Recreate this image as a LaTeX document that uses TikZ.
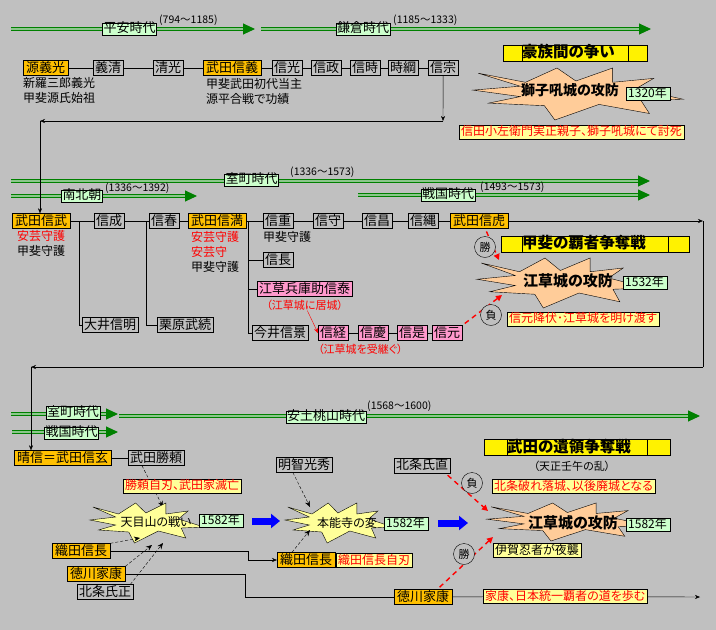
\documentclass[tikz,border=0pt]{standalone}
\usepackage{fontspec}
\setmainfont{Noto Sans CJK JP}[RawFeature=+palt]
\usepackage{tikz}
\usetikzlibrary{arrows.meta,positioning}

\definecolor{bggray}{RGB}{192,192,192}
\definecolor{lordgold}{RGB}{255,192,0}
\definecolor{eguspink}{RGB}{255,153,204}
\definecolor{palegreen}{RGB}{204,255,204}
\definecolor{paleyellow}{RGB}{255,255,153}
\definecolor{peach}{RGB}{255,204,153}
\definecolor{eragreen}{RGB}{0,128,0}

\begin{document}
\begin{tikzpicture}[
  x=1pt, y=-1pt,
  every node/.style={font=\fontsize{13}{15}\selectfont, inner sep=1pt},
  person/.style={draw, fill=bggray, anchor=west, inner xsep=2pt, inner ysep=1pt, text height=10.5pt, text depth=2.5pt},
  lord/.style={person, fill=lordgold, inner xsep=3pt},
  eguse/.style={person, fill=eguspink},
  erabox/.style={draw, fill=palegreen, inner xsep=1pt, inner ysep=0.5pt, text height=9.5pt, text depth=2pt},
  period/.style={anchor=west, font=\fontsize{10.5}{12}\selectfont},
  era/.style={draw=eragreen, double=eragreen!45!white, line width=1pt, double distance=1.2pt, -{Triangle[length=12pt,width=11pt]}},
  caption/.style={font=\fontsize{12}{15}\selectfont, inner sep=0pt},
  note/.style={draw, fill=paleyellow, text=red, anchor=west, font=\fontsize{12}{14}\selectfont, inner xsep=2pt, inner ysep=1pt, text height=9.5pt, text depth=2.5pt},
  yearbox/.style={draw, fill=palegreen, anchor=west, font=\fontsize{12}{14}\selectfont, text width=40pt, align=left, inner xsep=2pt, inner ysep=0.5pt, text height=9.5pt, text depth=2.5pt},
  title/.style={draw, fill=yellow, anchor=west, align=left, font=\fontsize{15.5}{17}\selectfont\bfseries, inner ysep=0.5pt, text height=12pt, text depth=3pt},
  burst/.pic={\draw[pic actions] (-0.95,-0.8) -- (-0.5,-0.45) -- (-0.2,-1) -- (-0.02,-0.5) -- (0.33,-1) -- (0.33,-0.45) -- (0.72,-0.6) -- (0.55,-0.2) -- (1,0.2) -- (0.6,0.25) -- (0.68,0.75) -- (0.2,0.4) -- (-0.22,1) -- (-0.32,0.45) -- (-0.85,0.35) -- (-0.55,0.1) -- (-1,-0.15) -- (-0.55,-0.3) -- cycle;},
  clash/.style={font=\fontsize{15}{17}\selectfont\bfseries},
  battle/.style={font=\fontsize{12}{14}\selectfont},
  verdict/.style={draw, circle, fill=bggray, minimum size=21pt, inner sep=0pt, font=\fontsize{11}{12}\selectfont},
  link/.style={-{Stealth[length=5pt,width=4pt]}},
  hint/.style={dash pattern=on 3pt off 2pt, -{Stealth[length=6pt,width=5pt]}},
  win/.style={red, line width=1.4pt, dash pattern=on 5pt off 4pt, shorten <=3pt, -{Triangle[length=6pt,width=6pt]}},
  flow/.style={blue, line width=7pt, -{Triangle[length=9pt,width=14pt]}}
]

\fill[bggray] (0,0) rectangle (716,630);
\useasboundingbox (0,0) rectangle (716,630);

% Eras
\foreach \xa/\xb/\y in {11/255/29, 261/651/29, 11/650/181, 11/197/196, 358/650/195, 11/118/414, 12/118/432, 119/700/416}
  \draw[era] (\xa,\y) -- (\xb,\y);

\node[erabox] (heian) at (129.5,29) {平安時代};
\node[period] (heian-years) at (158,20) {(794～1185)};
\node[erabox] (kamakura) at (363,29) {鎌倉時代};
\node[period] (kamakura-years) at (392,20) {(1185～1333)};
\node[erabox] (muromachi) at (251.5,180) {室町時代};
\node[period] (muromachi-years) at (289,172) {(1336～1573)};
\node[erabox] (nanboku) at (82,196) {南北朝};
\node[period] (nanboku-years) at (104,188) {(1336～1392)};
\node[erabox] (sengoku) at (448,195) {戦国時代};
\node[period] (sengoku-years) at (479,187) {(1493～1573)};
\node[erabox] (muromachi2) at (73,412.5) {室町時代};
\node[erabox] (sengoku2) at (71.5,433) {戦国時代};
\node[erabox] (azuchi) at (326,417) {安土桃山時代};
\node[period] (azuchi-years) at (366,406) {(1568～1600)};

% Kai Genji
\node[lord] (minamoto) at (23,68) {源義光};
\node[person] (yoshikiyo) at (93,68) {義清};
\node[person] (kiyomitsu) at (153,68) {清光};
\node[lord] (nobuyoshi) at (203,68) {武田信義};
\node[person] (nobumitsu) at (272,68) {信光};
\node[person] (nobumasa) at (311,68) {信政};
\node[person] (nobutoki) at (350,68) {信時};
\node[person] (tokitsuna) at (388,68) {時綱};
\node[person] (nobumune) at (428,68) {信宗};
\draw (minamoto) -- (yoshikiyo) -- (kiyomitsu) -- (nobuyoshi) -- (nobumitsu) -- (nobumasa) -- (nobutoki) -- (tokitsuna) -- (nobumune);

\node[caption, align=left, below=1pt of minamoto.south west, anchor=north west] (minamoto-note) {新羅三郎義光\\甲斐源氏始祖};
\node[caption, align=left, below=3pt of nobuyoshi.south west, anchor=north west, xshift=3pt] (nobuyoshi-note) {甲斐武田初代当主\\源平合戦で功績};

\coordinate (dropA) at (443,121);
\coordinate (dropB) at (40,121);
\draw[link] (nobumune) -- (dropA);
\draw[link] (dropA) -- (dropB);

% Shishiku castle
\node[title, inner xsep=19pt, text width=106pt] (goozoku) at (503,53) {豪族間の争い};
\pic[fill=peach, xscale=105, yscale=26] at (578,94) {burst};
\node[font=\fontsize{14}{16}\selectfont\bfseries] (shishiku) at (570,90) {獅子吼城の攻防};
\node[yearbox] (yearA) at (626,94) {1320年};
\node[note] (shinoda) at (459,132) {信田小左衛門実正親子、獅子吼城にて討死};

% Takeda main line
\node[lord] (nobutake) at (12,221) {武田信武};
\node[person] (nobunari) at (94,221) {信成};
\node[person] (nobuharu) at (149,221) {信春};
\node[lord] (nobumitsuB) at (188,221) {武田信満};
\node[person] (nobushige) at (263,221) {信重};
\node[person] (nobumori) at (313,221) {信守};
\node[person] (nobumasaB) at (362,221) {信昌};
\node[person] (nobutsuna) at (408,221) {信縄};
\node[lord] (nobutora) at (450,221) {武田信虎};
\draw (nobutake) -- (nobunari) -- (nobuharu) -- (nobumitsuB) -- (nobushige) -- (nobumori) -- (nobumasaB) -- (nobutsuna) -- (nobutora);
\draw[link] (dropB) -- (dropB |- nobutake.north);

\node[caption, align=center, below=2pt of nobutake] (nobutake-note) {\textcolor{red}{安芸守護}\\甲斐守護};
\node[caption, align=left, below=3pt of nobumitsuB.south west, anchor=north west, xshift=3pt] (nobumitsu-note) {\textcolor{red}{安芸守護}\\\textcolor{red}{安芸守}\\甲斐守護};
\node[caption, below=3pt of nobushige.south west, anchor=north west] (nobushige-note) {甲斐守護};

\node[person] (ooi) at (82,325) {大井信明};
\node[person] (kurihara) at (157,325) {栗原武続};
\node[person] (nobunagaB) at (263,260) {信長};
\node[eguse] (nobuyasu) at (257,289) {江草兵庫助信泰};
\node[person] (imai) at (252,333) {今井信景};
\node[eguse] (nobutsune) at (318,333) {信経};
\node[eguse] (nobuyoshiB) at (358,333) {信慶};
\node[eguse] (nobukore) at (397,333) {信是};
\node[eguse] (nobumoto) at (432,333) {信元};
\draw (nobutsune) -- (nobuyoshiB) -- (nobukore) -- (nobumoto);

\coordinate (fork1) at (79,221);
\coordinate (fork2) at (146,221);
\coordinate (fork3) at (248,221);
\draw (fork1) |- (ooi);
\draw (fork2) |- (kurihara);
\draw (fork3) |- (imai);
\draw (fork3 |- nobunagaB) -- (nobunagaB);
\draw (fork3 |- nobuyasu) -- (nobuyasu);

\node[caption, text=red, font=\fontsize{11}{13}\selectfont, below=3pt of nobuyasu] (kyojo) {（江草城に居城）};
\node[caption, text=red, font=\fontsize{11}{13}\selectfont, below=3pt of nobutsune.south west, anchor=north west] (uketsugu) {（江草城を受継ぐ）};
\draw[red, link] (kyojo) -- (nobutsune.west);

% Egusa castle 1532
\node[title, inner xsep=21pt, text width=146pt] (kaihasha) at (501,244) {甲斐の覇者争奪戦};
\pic[fill=peach, xscale=85, yscale=25] at (562,283) {burst};
\node[clash] (egusaA) at (568,281) {江草城の攻防};
\node[yearbox] (yearB) at (623,283) {1532年};
\node[note] (kofuku) at (507,319) {信元降伏･江草城を明け渡す};
\coordinate (hitA) at (499,260);
\coordinate (hitB) at (502,295);
\draw[win] ([xshift=6pt]nobutora.south) -- (hitA);
\draw[win] (nobumoto.north east) -- (hitB);
\node[verdict] (winA) at (485,247) {勝};
\node[verdict] (loseA) at (491,315) {負};

% Handover to Shingen
\coordinate (edgeA) at (703,221);
\coordinate (edgeB) at (703,367);
\coordinate (edgeC) at (31,367);
\draw[link] (nobutora) -- (edgeA);
\draw (edgeA) -- (edgeB);
\draw[link] (edgeB) -- (edgeC);

\node[lord] (shingen) at (14,458) {晴信＝武田信玄};
\draw[link] (edgeC) -- (edgeC |- shingen.north);
\node[person] (katsuyori) at (128,458) {武田勝頼};
\draw (shingen) -- (katsuyori);

% Tenmokuzan
\coordinate (tenA) at (163,507);
\coordinate (tenB) at (140,538);
\coordinate (tenC) at (152,545);
\coordinate (tenD) at (163,543);
\draw[hint] ([xshift=14pt]katsuyori.south west) -- (tenA);
\node[note] (metsubou) at (123,486) {勝頼自刃、武田家滅亡};
\pic[fill=paleyellow, xscale=57, yscale=20] at (147,523) {burst};
\node[battle] (tenmoku) at (156,522) {天目山の戦い};
\node[yearbox] (yearC) at (199,521) {1582年};
\node[lord] (odaA) at (52,551) {織田信長};
\node[lord] (tokugawaA) at (67,574) {徳川家康};
\node[person] (houjouA) at (77,592) {北条氏正};
\draw[hint] (odaA.north east) -- (tenB);
\draw[hint] (tokugawaA.north east) -- (tenC);
\draw[hint] ([xshift=-3pt]houjouA.north east) -- (tenD);

\coordinate (flowA) at (252,521);
\coordinate (flowB) at (280,521);
\draw[flow] (flowA) -- (flowB);

% Honnoji
\node[person] (akechi) at (276,465) {明智光秀};
\pic[fill=paleyellow, xscale=54, yscale=20] at (339,523) {burst};
\node[battle] (honnouji) at (347,523) {本能寺の変};
\node[yearbox] (yearD) at (384,524) {1582年};
\node[lord] (odaB) at (277,560) {織田信長};
\node[note] (jijin) at (336,560.5) {織田信長自刃};
\coordinate (honA) at (310,507);
\coordinate (honB) at (310,530);
\draw[hint] ([xshift=17pt]akechi.south west) -- (honA);
\draw[hint] ([xshift=15pt]odaB.north west) -- (honB);

\coordinate (odaturn) at (248,0);
\draw[link] (odaA) -| (odaturn |- odaB) -- (odaB);

\coordinate (flowC) at (438,523);
\coordinate (flowD) at (468,523);
\draw[flow] (flowC) -- (flowD);

% Egusa castle 1582
\node[title, inner xsep=23pt, text width=140pt] (iryou) at (484,447.5) {武田の遺領争奪戦};
\node[caption, font=\fontsize{11}{13}\selectfont] (jingo) at (572,466) {（天正壬午の乱）};
\node[person] (houjouB) at (394,465.5) {北条氏直};
\node[note] (rakujo) at (492,486.5) {北条破れ落城、以後廃城となる};
\pic[fill=peach, xscale=82, yscale=19] at (569,522) {burst};
\node[clash] (egusaB) at (573,523) {江草城の攻防};
\node[yearbox] (yearE) at (626,524.5) {1582年};
\node[note, text=black] (iga) at (493,550.5) {伊賀忍者が夜襲};
\node[lord] (tokugawaB) at (394,597) {徳川家康};
\node[note] (haja) at (483,596.5) {家康、日本統一覇者の道を歩む};

\coordinate (hitC) at (488,511);
\coordinate (hitD) at (493,537);
\draw[win] ([xshift=-5pt]houjouB.south east) -- (hitC);
\draw[win] ([xshift=-15pt]tokugawaB.north east) -- (hitD);
\node[verdict] (loseB) at (472,483) {負};
\node[verdict] (winB) at (464,554) {勝};

\coordinate (tokuturn) at (245,0);
\coordinate (endD) at (700,597);
\draw (tokugawaA) -| (tokuturn |- tokugawaB) -- (tokugawaB);
\draw (tokugawaB) -- (haja);
\draw[link] (haja) -- (endD);

% Title dividers
\foreach \t/\p in {goozoku/19pt, kaihasha/21pt, iryou/23pt}
  \draw ([xshift=\p]\t.north west) -- ([xshift=\p]\t.south west)
        ([xshift=-\p]\t.north east) -- ([xshift=-\p]\t.south east);

\end{tikzpicture}
\end{document}
